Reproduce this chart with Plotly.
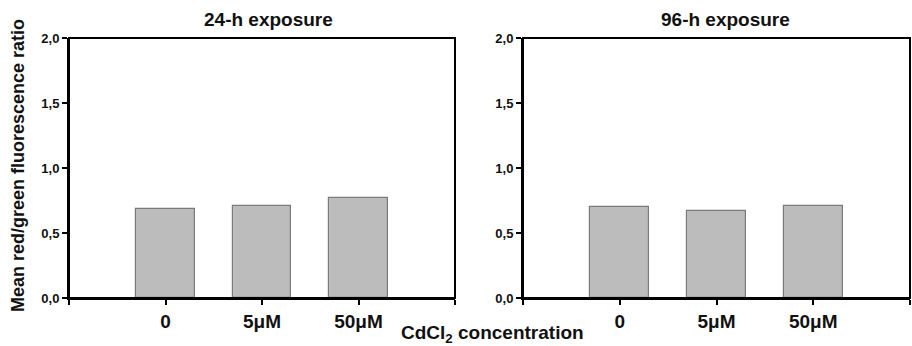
import plotly.graph_objects as go

categories = ["0", "5μM", "50μM"]
values_24h = [0.685, 0.708, 0.767]
values_96h = [0.700, 0.672, 0.708]
panel_titles = ["24-h exposure", "96-h exposure"]
y_ticks = [0, 0.5, 1.0, 1.5, 2.0]

FONT = "Liberation Sans, Arial, sans-serif"
BAR_FILL = "#bcbcbc"
BAR_LINE = "#7a7a7a"

fig = go.Figure()
xpos = list(range(len(categories)))

for i, vals in enumerate([values_24h, values_96h]):
    xa = "x" if i == 0 else "x2"
    ya = "y" if i == 0 else "y2"
    fig.add_trace(go.Bar(x=xpos, y=vals, xaxis=xa, yaxis=ya, width=0.61,
                         marker=dict(color=BAR_FILL, line=dict(color=BAR_LINE, width=1.2)),
                         showlegend=False, hoverinfo="skip"))

yb, yt = 1 - 298/346, 1 - 38/346
domains = [(69/912, 455/912), (523/912, 910/912)]
title_x = [268/912, 725/912]
for i in range(2):
    sfx = "" if i == 0 else "2"
    fig.update_layout(**{
        f"xaxis{sfx}": dict(domain=list(domains[i]), range=[-1, len(categories)],
                            tickvals=xpos, ticktext=[f"<b>{c}</b>" for c in categories],
                            ticks="outside", ticklen=5,
                            tickwidth=1.5, tickcolor="black",
                            minor=dict(tickvals=[-1, len(categories)], ticks="outside",
                                       ticklen=5, tickwidth=1.5, tickcolor="black",
                                       showgrid=False),
                            showline=True, linecolor="black", linewidth=2,
                            showgrid=False, zeroline=False, automargin=False,
                            tickfont=dict(family=FONT, size=19, color="#111"),
                            anchor="y" + sfx),
        f"yaxis{sfx}": dict(domain=[yb, yt], range=[0, 2], tickvals=y_ticks,
                            ticktext=[f"<b>{v:.1f}</b>".replace(".", ",") for v in y_ticks],
                            ticks="outside", ticklen=5, tickwidth=1.5, tickcolor="black",
                            showline=True, linecolor="black", linewidth=2,
                            showgrid=False, zeroline=False, automargin=False,
                            tickfont=dict(family=FONT, size=13, color="#111"),
                            anchor="x" + sfx),
    })
    # frame (top and right edges)
    fig.add_shape(type="rect", xref=f"x{sfx} domain", yref=f"y{sfx} domain",
                  x0=0, x1=1, y0=0, y1=1, line=dict(color="black", width=2),
                  fillcolor="rgba(0,0,0,0)", layer="above")
    fig.add_annotation(text=f"<b>{panel_titles[i]}</b>", xref="paper", yref="paper",
                       x=title_x[i], y=1 - 20/346,
                       showarrow=False, font=dict(family=FONT, size=19, color="#111"),
                       xanchor="center", yanchor="middle")

fig.add_annotation(text="<b>Mean red/green fluorescence ratio</b>", xref="paper", yref="paper",
                   x=18/912, y=1 - 166/346, textangle=-90, showarrow=False,
                   font=dict(family=FONT, size=18, color="#111"),
                   xanchor="center", yanchor="middle")
fig.add_annotation(text="<b>CdCl<sub>2</sub> concentration</b>", xref="paper", yref="paper",
                   x=492/912, y=1 - 334/346, showarrow=False,
                   font=dict(family=FONT, size=19, color="#111"),
                   xanchor="center", yanchor="middle")

fig.update_layout(width=912, height=346, margin=dict(l=0, r=0, t=0, b=0),
                  plot_bgcolor="white", paper_bgcolor="white", bargap=0)
fig.write_html("out.html", config={"displayModeBar": False},
               post_script="document.body.style.margin='0';document.body.style.overflow='hidden';")
